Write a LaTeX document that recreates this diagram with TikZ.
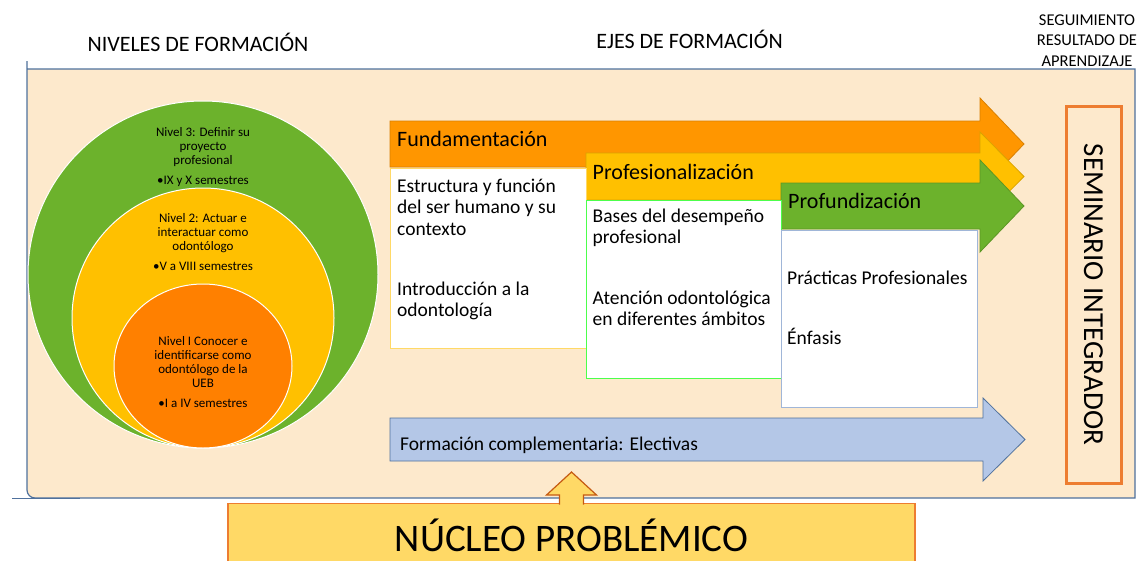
\documentclass[tikz,border=0pt]{standalone}
\usepackage{fontspec}
\setmainfont{Carlito}

\definecolor{durazno}{RGB}{253,233,204}
\definecolor{azulborde}{RGB}{79,113,157}
\definecolor{verdeniv}{RGB}{108,178,44}
\definecolor{amarilloniv}{RGB}{255,192,0}
\definecolor{naranjaniv}{RGB}{255,128,0}
\definecolor{naranjaeje}{RGB}{255,150,0}
\definecolor{celeste}{RGB}{180,199,231}
\definecolor{oro}{RGB}{255,217,102}
\definecolor{naranjasem}{RGB}{237,125,49}
\definecolor{cafe}{RGB}{197,90,17}

\begin{document}
\begin{tikzpicture}[x=1pt,y=-1pt]
        \tikzset{
        nivel/.style={draw=white, line width=1},
        txtniv/.style={anchor=base, align=center, inner sep=0, font=\fontsize{13}{14}\selectfont},
        titulo/.style={anchor=base, align=center, inner sep=0, font=\fontsize{22}{24}\selectfont},
        eje/.style={line width=0.8},
        txteje/.style={anchor=base west, inner sep=0, font=\fontsize{22}{26}\selectfont},
        caja/.style={fill=white, line width=0.8},
        txtcaja/.style={anchor=base west, align=left, inner sep=0, font=\fontsize{19.5}{21.6}\selectfont},
        semin/.style={draw=naranjasem, line width=3, rotate=-90, minimum width=377, minimum height=55, inner sep=0, font=\fontsize{29}{30}\selectfont},
        nucleobox/.style={fill=oro, draw=naranjasem, line width=1.2, minimum width=687, minimum height=70, anchor=north},
        flechita/.style={fill=oro, draw=cafe, line width=1.2, line join=miter}
        }
        \useasboundingbox (0,0) rectangle (1140,560);

        % fondo
        \filldraw[fill=durazno, draw=azulborde, line width=1.2] (27,69) -- (1135,69) -- (1135,498) [rounded corners=8] -- (27,498) -- (27,69) [sharp corners] -- cycle;
        \draw[azulborde, line width=1.2] (12,498.5) -- (80,498.5);

        % titulos (multilinea: base = ultima linea)
        \node[titulo] (tniv) at (198,51) {NIVELES DE FORMACIÓN};
        \node[titulo] (tejes) at (689.5,48) {EJES DE FORMACIÓN};
        \node[titulo, font=\fontsize{16.5}{20.7}\selectfont] (tseg) at (1087,66.4) {SEGUIMIENTO\\RESULTADO DE\\APRENDIZAJE};

        % niveles
        \filldraw[nivel, fill=verdeniv] (203,274.5) ellipse [x radius=175, y radius=173.5];
        \filldraw[nivel, fill=amarilloniv] (203,318) ellipse [x radius=131, y radius=130];
        \filldraw[nivel, fill=naranjaniv] (203,366) ellipse [x radius=89, y radius=82];
        \node[txtniv] (t3) at (203,164) {Nivel 3: Definir su\\proyecto\\profesional};
        \node[txtniv] (s3) at (203,184) {•IX y X semestres};
        \node[txtniv] (t2) at (203,250.7) {Nivel 2: Actuar e\\interactuar como\\odontólogo};
        \node[txtniv] (s2) at (203,270.7) {•V a VIII semestres};
        \node[txtniv] (t1) at (203,387.3) {Nivel I Conocer e\\identificarse como\\odontólogo de la\\UEB};
        \node[txtniv] (s1) at (203,407.7) {•I a IV semestres};

        % ejes
        \filldraw[eje, fill=naranjaeje, draw=naranjaeje!85!black] (390,121) -- (980,121) -- (980,98) -- (1024,144) -- (980,190) -- (980,167) -- (390,167) -- cycle;
        \filldraw[eje, fill=amarilloniv, draw=amarilloniv!85!black] (586,153) -- (980,153) -- (980,132) -- (1024,176.5) -- (980,221) -- (980,200) -- (586,200) -- cycle;
        \filldraw[eje, fill=verdeniv, draw=verdeniv!85!black] (781,183) -- (980,183) -- (980,160) -- (1024,206) -- (980,252) -- (980,229) -- (781,229) -- cycle;
        \node[txteje] (fund) at (397,146.7) {Fundamentación};
        \node[txteje] (prof) at (592.5,179) {Profesionalización};
        \node[txteje] (pfun) at (788,208) {Profundización};

        \draw[caja, draw=oro] (390,168) rectangle (586,348);
        \draw[caja, draw=green!70!white] (586,200.5) rectangle (781,378);
        \draw[caja, draw=celeste!80!azulborde] (781,230) rectangle (977,407);
        \node[txtcaja] (c1a) at (397,235.2) {Estructura y función\\del ser humano y su\\contexto};
        \node[txtcaja] (c1b) at (397,316.6) {Introducción a la\\odontología};
        \node[txtcaja] (c2a) at (592.5,243.6) {Bases del desempeño\\profesional};
        \node[txtcaja] (c2b) at (592.5,325.6) {Atención odontológica\\en diferentes ámbitos};
        \node[txtcaja] (c3a) at (787,284) {Prácticas Profesionales};
        \node[txtcaja] (c3b) at (787,344) {Énfasis};

        \filldraw[eje, fill=celeste, draw=azulborde] (390,418) -- (983,418) -- (983,398) -- (1025,439.5) -- (983,481) -- (983,461) -- (390,461) -- cycle;
        \node[txtcaja] (elect) at (400,450) {Formación complementaria: Electivas};

        % seminario
        \node[semin] (sem) at (1093.5,294.5) {SEMINARIO INTEGRADOR};

        % nucleo
        \node[nucleobox] (nucleo) at (571.5,503) {};
        \node[anchor=base, inner sep=0, font=\fontsize{39}{42}\selectfont] (tnuc) at (571.5,551) {NÚCLEO PROBLÉMICO};
        \path[flechita, shift={(nucleo.north)}] (-12,1.5) -- (-12,-8) -- (-25,-8) -- (0,-31) -- (25,-8) -- (12,-8) -- (12,1.5);
\end{tikzpicture}
\end{document}
